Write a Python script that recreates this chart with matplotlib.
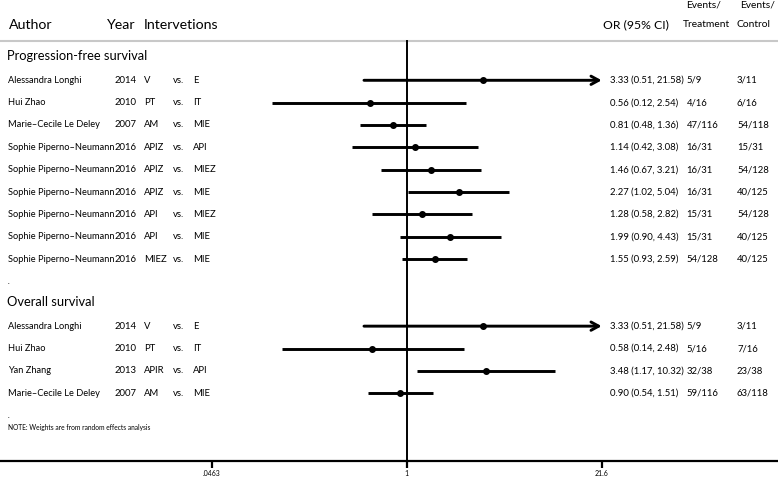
import matplotlib
matplotlib.use("Agg")
import matplotlib.pyplot as plt
from matplotlib.transforms import blended_transform_factory, Affine2D

# ---------------- data ----------------
authors = ["Alessandra Longhi", "Hui Zhao", "Marie\u2013Cecile Le Deley",
           "Sophie Piperno\u2013Neumann", "Sophie Piperno\u2013Neumann",
           "Sophie Piperno\u2013Neumann", "Sophie Piperno\u2013Neumann",
           "Sophie Piperno\u2013Neumann", "Sophie Piperno\u2013Neumann",
           "Alessandra Longhi", "Hui Zhao", "Yan Zhang", "Marie\u2013Cecile Le Deley"]
years = ["2014", "2010", "2007", "2016", "2016", "2016", "2016", "2016", "2016",
         "2014", "2010", "2013", "2007"]
treat_arm = ["V", "PT", "AM", "APIZ", "APIZ", "APIZ", "API", "API", "MIEZ",
             "V", "PT", "APIR", "AM"]
ctrl_arm = ["E", "IT", "MIE", "API", "MIEZ", "MIE", "MIEZ", "MIE", "MIE",
            "E", "IT", "API", "MIE"]
or_est = [3.33, 0.56, 0.81, 1.14, 1.46, 2.27, 1.28, 1.99, 1.55,
          3.33, 0.58, 3.48, 0.90]
ci_low = [0.51, 0.12, 0.48, 0.42, 0.67, 1.02, 0.58, 0.90, 0.93,
          0.51, 0.14, 1.17, 0.54]
ci_high = [21.58, 2.54, 1.36, 3.08, 3.21, 5.04, 2.82, 4.43, 2.59,
           21.58, 2.48, 10.32, 1.51]
events_treat = ["5/9", "4/16", "47/116", "16/31", "16/31", "16/31", "15/31", "15/31", "54/128",
                "5/9", "5/16", "32/38", "59/116"]
events_ctrl = ["3/11", "6/16", "54/118", "15/31", "54/128", "40/125", "54/128", "40/125", "40/125",
               "3/11", "7/16", "23/38", "63/118"]
row_pos = [0, 1, 2, 3, 4, 5, 6, 7, 8, 11, 12, 13, 14]
group_titles = ["Progression-free survival", "Overall survival"]
group_rows = [-1, 10]
tick_vals = [0.0463, 1, 21.6]
tick_labels = [".0463", "1", "21.6"]

# ---------------- figure ----------------
W, H = 778, 479
plt.rcParams['font.family'] = ['Lato', 'DejaVu Sans']
fig = plt.figure(figsize=(W / 100, H / 100), dpi=100)

ax_bottom_px = 460.7
ax = fig.add_axes([0, (H - ax_bottom_px) / H, 1, ax_bottom_px / H])
ax.set_xscale('log')
dec = 146.1   # pixels per decade
x1_px = 406.7
ax.set_xlim(10 ** (-x1_px / dec), 10 ** ((W - x1_px) / dec))
row0_px, row_h = 80.3, 22.35
ax.set_ylim((ax_bottom_px - row0_px) / row_h, -row0_px / row_h)

for s in ['top', 'left', 'right']:
    ax.spines[s].set_visible(False)
ax.spines['bottom'].set_linewidth(1.6)
ax.set_yticks([])
ax.set_xticks(tick_vals)
ax.set_xticklabels(tick_labels, fontsize=5)
ax.minorticks_off()
ax.tick_params(axis='x', direction='out', length=5, width=1.6, pad=2)

# x in pixel coordinates for text columns, y in row units
tr = blended_transform_factory(Affine2D().scale(1.0 / W) + ax.transAxes, ax.transData)

def yrow(py):
    return (py - row0_px) / row_h

# header
hy = yrow(25)
ax.text(8.5, hy, "Author", transform=tr, fontsize=10.2, va='center', ha='left')
ax.text(107, hy, "Year", transform=tr, fontsize=10.2, va='center', ha='left')
ax.text(144, hy, "Intervetions", transform=tr, fontsize=10.2, va='center', ha='left')
ax.text(603, hy, "OR (95% CI)", transform=tr, fontsize=8.8, va='center', ha='left')
ax.text(686, yrow(5), "Events/", transform=tr, fontsize=7.4, va='center', ha='left')
ax.text(683, hy, "Treatment", transform=tr, fontsize=7.4, va='center', ha='left')
ax.text(740, yrow(5), "Events/", transform=tr, fontsize=7.4, va='center', ha='left')
ax.text(737, hy, "Control", transform=tr, fontsize=7.4, va='center', ha='left')

# gray separator line
ax.axhline(yrow(41.5), color='#c8c8c8', lw=1.5)

# null line
ax.plot([1, 1], [yrow(41.5), ax.get_ylim()[0]], color='black', lw=1.4)

# group titles
for t, r in zip(group_titles, group_rows):
    ax.text(7.5, r - 0.1, t, transform=tr, fontsize=9.3, va='center', ha='left')

nfs = 6.7
dfs = 6.8
x_max = tick_vals[-1]
for i, r in enumerate(row_pos):
    ax.text(8.5, r, authors[i], transform=tr, fontsize=nfs, va='center', ha='left')
    ax.text(115, r, years[i], transform=tr, fontsize=dfs, va='center', ha='left')
    ax.text(144, r, treat_arm[i], transform=tr, fontsize=dfs, va='center', ha='left')
    ax.text(173, r, "vs.", transform=tr, fontsize=dfs, va='center', ha='left')
    ax.text(193, r, ctrl_arm[i], transform=tr, fontsize=dfs, va='center', ha='left')
    ax.text(610.5, r, f"{or_est[i]:.2f} ({ci_low[i]:.2f}, {ci_high[i]:.2f})",
            transform=tr, fontsize=dfs, va='center', ha='left')
    ax.text(686.5, r, events_treat[i], transform=tr, fontsize=dfs, va='center', ha='left')
    ax.text(737, r, events_ctrl[i], transform=tr, fontsize=dfs, va='center', ha='left')
    if ci_high[i] >= x_max * 0.99:
        ax.annotate('', xy=(x_max, r), xytext=(ci_low[i], r),
                    arrowprops=dict(arrowstyle='->,head_length=0.55,head_width=0.3',
                                    lw=2.1, color='black', shrinkA=0, shrinkB=0))
    else:
        ax.plot([ci_low[i], ci_high[i]], [r, r], color='black', lw=2.1,
                solid_capstyle='butt')
    ax.plot([or_est[i]], [r], marker='o', ms=4, color='black')

# dots and note
ax.text(8, 9, ".", transform=tr, fontsize=5, va='center', ha='left')
ax.text(8, 15, ".", transform=tr, fontsize=5, va='center', ha='left')
ax.text(8, yrow(427.7), "NOTE: Weights are from random effects analysis",
        transform=tr, fontsize=4.8, va='center', ha='left')

fig.savefig("out.png", dpi=100)
